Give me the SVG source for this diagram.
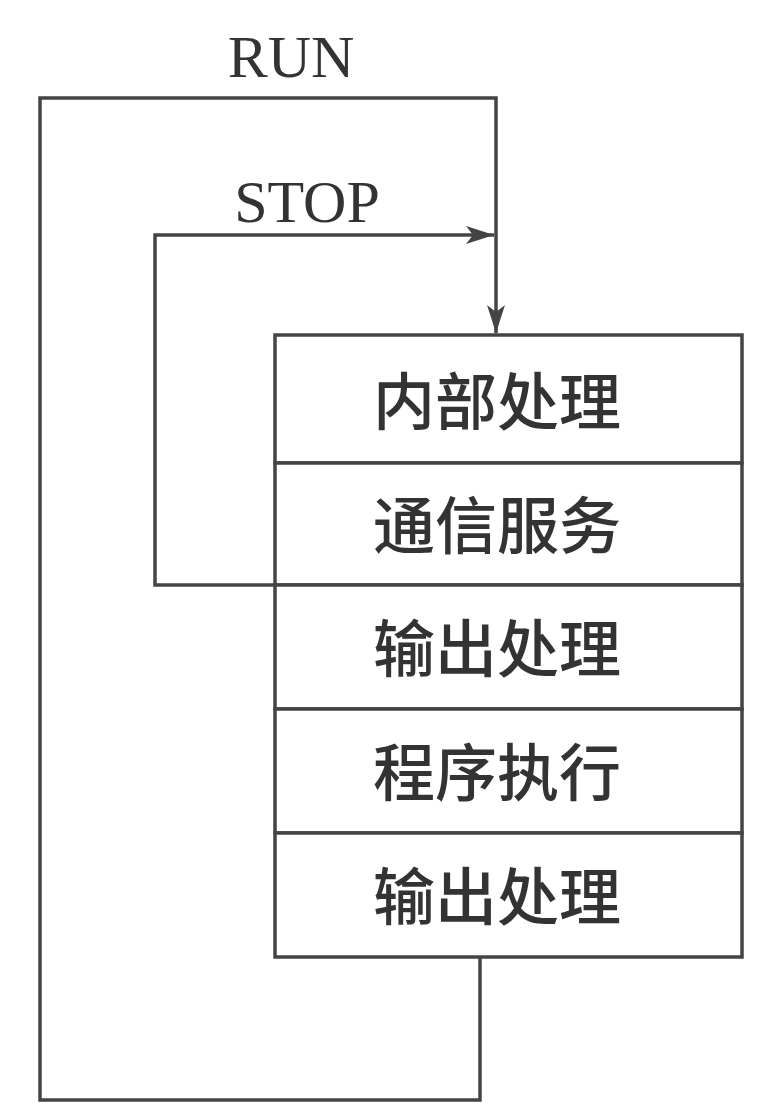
<svg xmlns="http://www.w3.org/2000/svg" width="774" height="1103" viewBox="0 0 774 1103">
<style>
.ln{fill:none;stroke:#444;stroke-width:3.5}
.box{fill:#fff;stroke:#444;stroke-width:3.5}
.lbl{font-family:"Liberation Serif","Times New Roman",serif;font-size:60px;fill:#333}
.cn{font-family:"Noto Sans CJK SC",sans-serif;font-size:62px;font-weight:500;fill:#333;text-anchor:middle;dominant-baseline:central}
</style>
<defs>
<marker id="ah" viewBox="0 0 28 18" refX="28" refY="9" markerWidth="28" markerHeight="18" markerUnits="userSpaceOnUse" orient="auto">
<path d="M0,0 L28,9 L0,18 L7,9 Z" fill="#444"/>
</marker>
</defs>
<rect width="774" height="1103" fill="#fff"/>
<g id="connectors">
<path class="ln" d="M480,957 V1100 H40 V98 H496 V333" marker-end="url(#ah)"/>
<path class="ln" d="M275,585 H155 V235 H494" marker-end="url(#ah)"/>
</g>
<g id="labels">
<text class="lbl" x="291" y="77" text-anchor="middle">RUN</text>
<text class="lbl" x="307" y="222" text-anchor="middle">STOP</text>
</g>
<g id="n1"><rect class="box" x="275" y="335" width="467" height="128"/><text class="cn" x="497" y="398">内部处理</text></g>
<g id="n2"><rect class="box" x="275" y="463" width="467" height="122"/><text class="cn" x="497" y="522">通信服务</text></g>
<g id="n3"><rect class="box" x="275" y="585" width="467" height="124"/><text class="cn" x="497" y="645">输出处理</text></g>
<g id="n4"><rect class="box" x="275" y="709" width="467" height="124"/><text class="cn" x="497" y="769">程序执行</text></g>
<g id="n5"><rect class="box" x="275" y="833" width="467" height="124"/><text class="cn" x="497" y="893">输出处理</text></g>
</svg>
